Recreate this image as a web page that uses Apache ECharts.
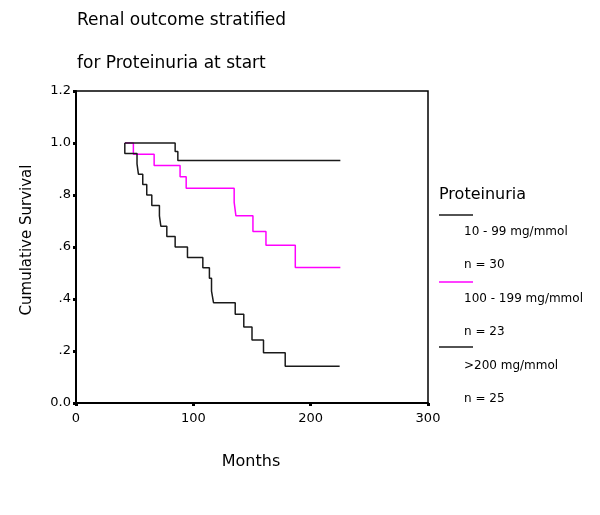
<!DOCTYPE html>
<html>
<head>
<meta charset="utf-8">
<script src="https://cdn.jsdelivr.net/npm/echarts@6/dist/echarts.min.js"></script>
<style>html,body{margin:0;padding:0;background:#fff}#c{width:600px;height:515px}</style>
</head>
<body>
<div id="c"></div>
<script>
// Data
var titleLines = ['Renal outcome stratified', 'for Proteinuria at start'];
var yTickLabels = ['0.0', '.2', '.4', '.6', '.8', '1.0', '1.2'];
var xTickLabels = ['0', '100', '200', '300'];
var legendTitle = 'Proteinuria';
var groupNames = ['10 - 99 mg/mmol', '100 - 199 mg/mmol', '>200 mg/mmol'];
var groupN = ['n = 30', 'n = 23', 'n = 25'];

var g1Months = [41.6, 84.5, 86.8, 225.3];
var g1Surv   = [1.0, 0.967, 0.933, 0.933];

var g2Months = [41.6, 48.9, 66.6, 88.7, 93.9, 134.8, 136.3, 150.8, 161.9, 186.9, 225.3];
var g2Surv   = [1.0, 0.957, 0.913, 0.870, 0.826, 0.772, 0.72, 0.66, 0.607, 0.521, 0.521];

var g3Months = [41.6, 41.6, 52.0, 53.2, 56.9, 60.3, 64.6, 71.1, 72.3, 77.4, 84.5, 95.0, 108.1, 113.7, 115.5, 117.2, 135.7, 143.0, 150.0, 159.8, 178.3, 224.7];
var g3Surv   = [1.0, 0.96, 0.92, 0.88, 0.84, 0.80, 0.76, 0.72, 0.68, 0.64, 0.60, 0.56, 0.52, 0.48, 0.43, 0.386, 0.341, 0.292, 0.242, 0.193, 0.141, 0.141];

function zip(a, b) { return a.map(function (v, i) { return [v, b[i]]; }); }

var FONT = '"DejaVu Sans", sans-serif';
var colors = ['#1a1a1a', '#ff00ff', '#1a1a1a'];

var chart = echarts.init(document.getElementById('c'), null, {renderer: 'canvas'});

var graphics = [
  {type: 'text', left: 77, top: 12, style: {text: titleLines[0], font: '17px ' + FONT, fill: '#000'}},
  {type: 'text', left: 77, top: 55, style: {text: titleLines[1], font: '17px ' + FONT, fill: '#000'}},
  {type: 'text', x: 27, y: 240, rotation: Math.PI / 2, style: {text: 'Cumulative Survival', font: '15px ' + FONT, fill: '#000', align: 'center', verticalAlign: 'middle'}},
  {type: 'text', x: 251, y: 462, style: {text: 'Months', font: '16px ' + FONT, fill: '#000', align: 'center', verticalAlign: 'middle'}},
  {type: 'text', x: 439, y: 195, style: {text: legendTitle, font: '16px ' + FONT, fill: '#000', align: 'left', verticalAlign: 'middle'}}
];
var lineYs = [215, 282, 347];
for (var i = 0; i < 3; i++) {
  graphics.push({type: 'line', shape: {x1: 439, y1: lineYs[i], x2: 473, y2: lineYs[i]}, style: {stroke: colors[i], lineWidth: 1.5}});
  graphics.push({type: 'text', x: 464, y: 231.8 + i * 66.8, style: {text: groupNames[i], font: '12px ' + FONT, fill: '#000', align: 'left', verticalAlign: 'middle'}});
  graphics.push({type: 'text', x: 464, y: 265.2 + i * 66.8, style: {text: groupN[i], font: '12px ' + FONT, fill: '#000', align: 'left', verticalAlign: 'middle'}});
}

chart.setOption({
  animation: false,
  backgroundColor: '#fff',
  grid: {left: 76, top: 91, right: 172, bottom: 112, show: true, borderColor: '#000', borderWidth: 1.5, containLabel: false},
  xAxis: {
    type: 'value', min: 0, max: 300, interval: 100,
    axisLine: {show: true, lineStyle: {color: '#000', width: 2}},
    axisTick: {show: true, length: 3, lineStyle: {color: '#000', width: 3}},
    axisLabel: {margin: 9, color: '#000', fontFamily: 'DejaVu Sans', fontSize: 13,
      formatter: function (v) { return xTickLabels[Math.round(v / 100)]; }},
    splitLine: {show: false}
  },
  yAxis: {
    type: 'value', min: 0, max: 1.2, interval: 0.2,
    axisLine: {show: true, lineStyle: {color: '#000', width: 2}},
    axisTick: {show: true, length: 3, lineStyle: {color: '#000', width: 3}},
    axisLabel: {margin: 5, color: '#000', fontFamily: 'DejaVu Sans', fontSize: 13,
      formatter: function (v) { return yTickLabels[Math.round(v / 0.2)]; }},
    splitLine: {show: false}
  },
  series: [
    {type: 'line', step: 'end', data: zip(g2Months, g2Surv), showSymbol: false, symbol: 'none', z: 2, lineStyle: {color: colors[1], width: 1.5}, silent: true},
    {type: 'line', step: 'end', data: zip(g3Months, g3Surv), showSymbol: false, symbol: 'none', z: 3, lineStyle: {color: colors[2], width: 1.5}, silent: true},
    {type: 'line', step: 'end', data: zip(g1Months, g1Surv), showSymbol: false, symbol: 'none', z: 3, lineStyle: {color: colors[0], width: 1.5}, silent: true}
  ],
  graphic: graphics
});
</script>
</body>
</html>
